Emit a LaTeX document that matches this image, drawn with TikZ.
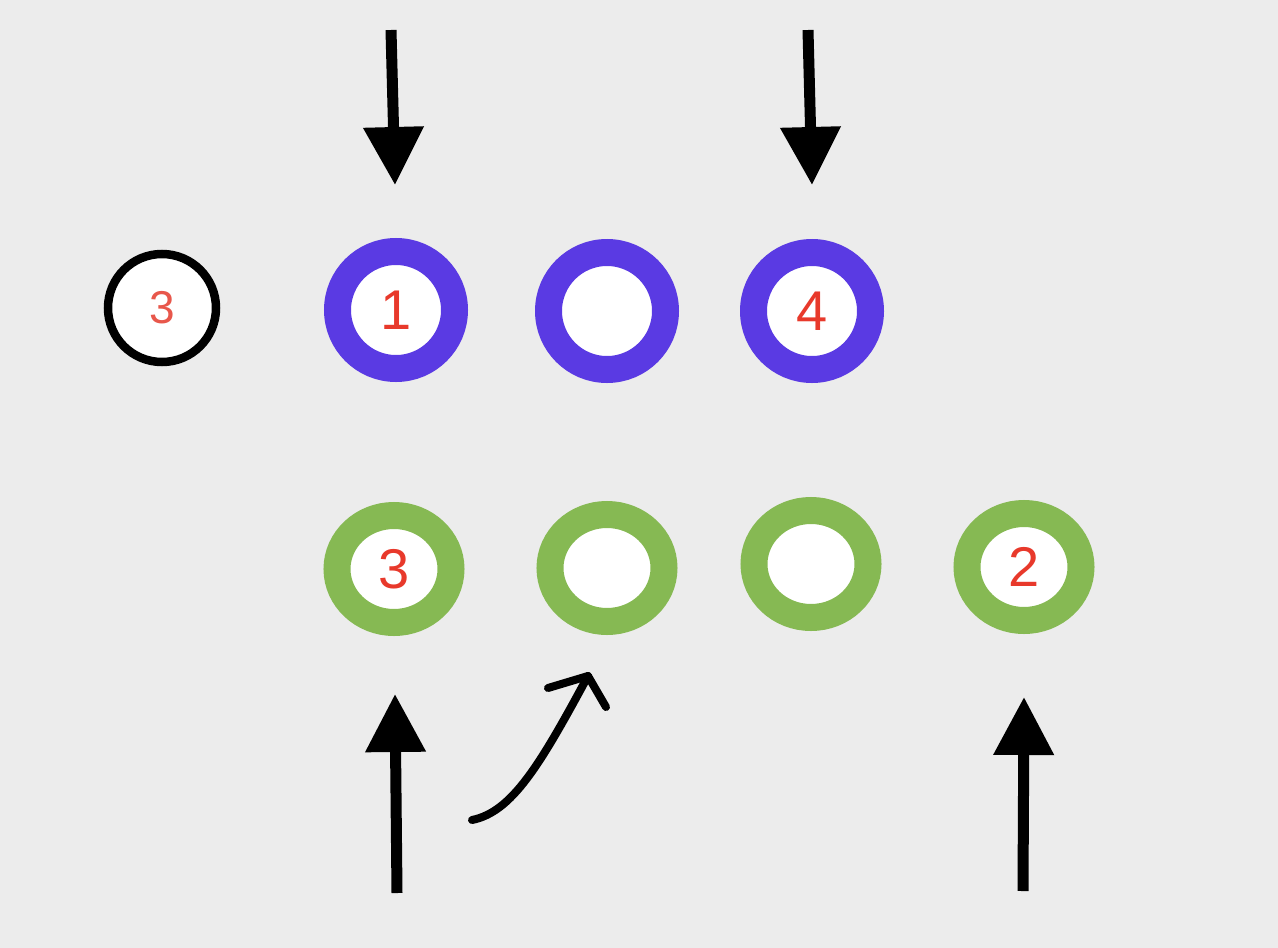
\documentclass[tikz,border=0pt]{standalone}
\usepackage{fontspec}
\setmainfont{Liberation Sans}
\usetikzlibrary{arrows.meta,shapes.geometric}
\definecolor{bgc}{HTML}{ECECEC}
\definecolor{ringblue}{HTML}{5A3AE3}
\definecolor{ringgreen}{HTML}{86B953}
\definecolor{numred}{HTML}{E8392B}
\definecolor{numred2}{HTML}{E8574B}
\tikzset{
  bluering/.style={circle, draw=ringblue, line width=27pt, fill=white, minimum size=117pt, inner sep=0pt, text=numred, font=\fontsize{56}{56}\selectfont},
  greenring/.style={ellipse, draw=ringgreen, line width=27pt, fill=white, minimum width=114pt, minimum height=107pt, inner sep=0pt, text=numred, font=\fontsize{56}{56}\selectfont},
  blackring/.style={circle, draw=black, line width=8.5pt, fill=white, minimum size=108pt, inner sep=0pt, text=numred2, font=\fontsize{46}{46}\selectfont},
  bigarrow/.style={line width=11pt, -{Triangle[length=58pt,width=58pt]}},
  curvearrow/.style={line width=8pt, line cap=round, line join=round},
}
\begin{document}
\begin{tikzpicture}[x=1pt,y=-1pt]
\fill[bgc] (0,0) rectangle (1278,948);
\useasboundingbox (0,0) rectangle (1278,948);
% top row
\node[blackring] (k3) at (162,308) {3};
\node[bluering] (b1) at (396,310) {1};
\node[bluering] (b2) at (607,311) {};
\node[bluering] (b3) at (812,311) {4};
% bottom row
\node[greenring] (g1) at (394,569) {3};
\node[greenring] (g2) at (607,568) {};
\node[greenring] (g3) at (811,564) {};
\node[greenring] (g4) at (1024,567) {2};
% arrow endpoints
\coordinate (t1s) at (391,30);
\coordinate (t1e) at (395,185);
\coordinate (t2s) at (808,30);
\coordinate (t2e) at (812,185);
\coordinate (u1s) at (397,893);
\coordinate (u1e) at (395,694);
\coordinate (u2s) at (1023,891);
\coordinate (u2e) at (1024,697);
\coordinate (cs) at (472,820);
\coordinate (ce) at (588,676);
\coordinate (ca) at (548,688);
\coordinate (cb) at (606,707);
% arrows
\draw[bigarrow] (t1s) -- (t1e);
\draw[bigarrow] (t2s) -- (t2e);
\draw[bigarrow] (u1s) -- (u1e);
\draw[bigarrow] (u2s) -- (u2e);
\draw[curvearrow] (cs) .. controls (512,812) and (540,765) .. (ce);
\draw[curvearrow] (ca) -- (ce) -- (cb);
\end{tikzpicture}
\end{document}
